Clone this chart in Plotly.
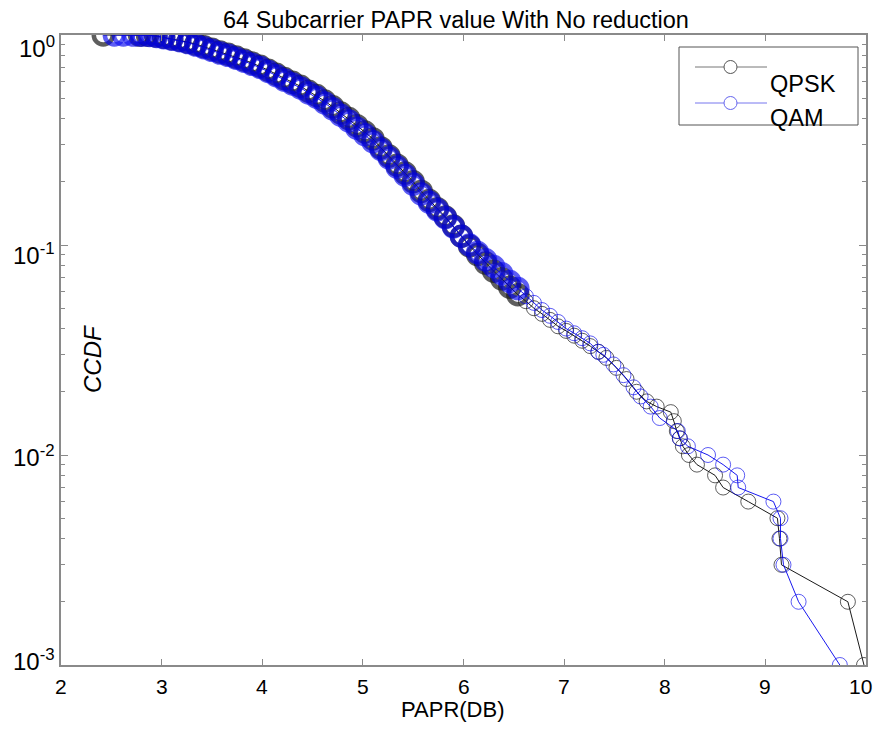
import plotly.graph_objects as go

# ---- data ----
qpsk_papr = [2.42, 2.78, 2.86, 2.94, 3.02, 3.10, 3.18, 3.26, 3.34, 3.42, 3.50, 3.58, 3.66, 3.74,
             3.82, 3.90, 3.98, 4.06, 4.14, 4.22, 4.30, 4.38, 4.46, 4.54, 4.62, 4.70, 4.78, 4.86,
             4.94, 5.02, 5.10, 5.18, 5.26, 5.34, 5.42, 5.50, 5.58, 5.66, 5.74, 5.82, 5.90, 5.98,
             6.06, 6.14, 6.22, 6.30, 6.38, 6.46, 6.54, 6.62, 6.70, 6.78, 6.86, 6.94, 7.02, 7.10,
             7.18, 7.26, 7.34, 7.42, 7.52, 7.62, 7.72, 7.82, 7.92, 8.06, 8.09, 8.12, 8.15, 8.18,
             8.24, 8.32, 8.50, 8.58, 8.83, 9.12, 9.14, 9.16, 9.82, 9.98]
qpsk_ccdf = [1.0, 0.999, 0.997, 0.99, 0.975, 0.96, 0.945, 0.925, 0.905, 0.88, 0.855, 0.83, 0.81, 0.785,
             0.76, 0.735, 0.71, 0.68, 0.65, 0.62, 0.595, 0.57, 0.54, 0.515, 0.485, 0.455, 0.425, 0.40,
             0.37, 0.345, 0.32, 0.29, 0.265, 0.24, 0.22, 0.20, 0.18, 0.163, 0.149, 0.136, 0.123, 0.11,
             0.099, 0.09, 0.082, 0.075, 0.069, 0.063, 0.058, 0.054, 0.050, 0.047, 0.044, 0.041, 0.039, 0.037,
             0.035, 0.033, 0.031, 0.029, 0.026, 0.023, 0.020, 0.018, 0.017, 0.016, 0.0145, 0.013, 0.012, 0.011,
             0.010, 0.009, 0.008, 0.007, 0.006, 0.005, 0.004, 0.003, 0.002, 0.001]

qam_papr = [2.53, 2.62, 2.72, 2.80, 2.88, 2.95, 3.02, 3.10, 3.18, 3.26, 3.34, 3.42, 3.50, 3.58,
            3.66, 3.74, 3.82, 3.90, 3.98, 4.06, 4.14, 4.22, 4.30, 4.38, 4.46, 4.54, 4.62, 4.70,
            4.78, 4.86, 4.94, 5.02, 5.10, 5.18, 5.26, 5.34, 5.42, 5.50, 5.58, 5.66, 5.74, 5.82,
            5.90, 5.98, 6.06, 6.14, 6.22, 6.30, 6.38, 6.46, 6.54, 6.62, 6.70, 6.78, 6.86, 6.94,
            7.02, 7.10, 7.18, 7.26, 7.34, 7.39, 7.49, 7.59, 7.69, 7.76, 7.86, 7.95, 8.13, 8.15,
            8.23, 8.43, 8.58, 8.72, 8.73, 9.08, 9.15, 9.15, 9.18, 9.33, 9.74]
qam_ccdf = [1.0, 1.0, 0.999, 0.998, 0.995, 0.985, 0.97, 0.955, 0.94, 0.92, 0.895, 0.87, 0.845, 0.82,
            0.80, 0.775, 0.75, 0.725, 0.70, 0.67, 0.64, 0.61, 0.585, 0.56, 0.53, 0.505, 0.475, 0.445,
            0.415, 0.39, 0.36, 0.335, 0.31, 0.285, 0.26, 0.235, 0.215, 0.195, 0.175, 0.16, 0.147, 0.135,
            0.122, 0.11, 0.10, 0.092, 0.085, 0.079, 0.073, 0.067, 0.062, 0.057, 0.053, 0.049, 0.046, 0.043,
            0.040, 0.038, 0.036, 0.034, 0.031, 0.030, 0.027, 0.024, 0.021, 0.019, 0.017, 0.015, 0.013, 0.012,
            0.011, 0.010, 0.009, 0.008, 0.007, 0.006, 0.005, 0.004, 0.003, 0.002, 0.001]

x_ticks = [2, 3, 4, 5, 6, 7, 8, 9, 10]
x_tick_text = ["2", "3", "4", "5", "6", "7", "8", "9", "10"]
y_ticks = [0.001, 0.01, 0.1, 1]
y_tick_text = ["10<sup>-3</sup>", "10<sup>-2</sup>", "10<sup>-1</sup>", "10<sup>0</sup>"]
series_names = ["QPSK", "QAM"]
title_text = "64 Subcarrier PAPR value With No reduction"
x_title = "PAPR(DB)"
y_title = "CCDF"

# ---- layout geometry ----
W, H = 874, 736
L, R, T, B = 61, 8, 35, 71
PW, PH = W - L - R, H - T - B
FONT = "Liberation Sans, Arial, sans-serif"
BLACK = "#1a1a1a"
BLUE = "#0000ee"
AXIS = "#8a8a8a"
CROWDED_UNTIL = 6.6
# vertical pixel centres of the y tick labels as printed in the reference (bottom to top)
Y_LABEL_PIX = [660, 456, 254, 47]


def px(x):
    return (x - L) / PW


def py(y):
    return (H - B - y) / PH


def ring_widths(xs):
    # overlapping rings in the crowded part of the curve look heavier
    return [4.5 if v < CROWDED_UNTIL else 1.0 for v in xs]


def ring_sizes(xs):
    return [19 if v < CROWDED_UNTIL else 15 for v in xs]


fig = go.Figure()
fig.add_trace(go.Scatter(x=qpsk_papr, y=qpsk_ccdf, mode="lines+markers", name=series_names[0],
                         line=dict(color=BLACK, width=1),
                         marker=dict(symbol="circle-open", size=ring_sizes(qpsk_papr), color=BLACK,
                                     line=dict(width=ring_widths(qpsk_papr), color=BLACK)),
                         showlegend=False))
fig.add_trace(go.Scatter(x=qam_papr, y=qam_ccdf, mode="lines+markers", name=series_names[1],
                         line=dict(color=BLUE, width=1),
                         marker=dict(symbol="circle-open", size=ring_sizes(qam_papr), color=BLUE,
                                     line=dict(width=ring_widths(qam_papr), color=BLUE)),
                         opacity=0.9, showlegend=False))

minor_y = [m * 10 ** e for e in (-3, -2, -1) for m in range(2, 10)]

fig.update_layout(
    width=W, height=H, margin=dict(l=L, r=R, t=T, b=B, autoexpand=False),
    paper_bgcolor="white", plot_bgcolor="white",
    font=dict(family=FONT, size=21, color="black"),
    xaxis=dict(range=[2, 10], tickvals=x_ticks, ticks="inside", ticklen=6, tickcolor=AXIS,
               showline=True, linecolor=AXIS, linewidth=1.5, mirror="ticks", showgrid=False,
               zeroline=False, showticklabels=False),
    yaxis=dict(type="log", range=[-3, 0], tickvals=y_ticks, ticks="inside",
               ticklen=7, tickcolor=AXIS, showline=True, linecolor=AXIS, linewidth=1.5, mirror="ticks",
               showgrid=False, zeroline=False, showticklabels=False,
               minor=dict(tickvals=minor_y, ticks="inside", ticklen=4, tickcolor=AXIS, showgrid=False)),
)

annotations = [
    dict(text=title_text, x=px(456), y=py(20), xref="paper", yref="paper", showarrow=False,
         xanchor="center", yanchor="middle", font=dict(size=23.5)),
    dict(text=x_title, x=px(453), y=py(709), xref="paper", yref="paper", showarrow=False,
         xanchor="center", yanchor="middle", font=dict(size=22)),
    dict(text="<i>" + y_title + "</i>", x=px(93), y=py(359), xref="paper", yref="paper", showarrow=False,
         xanchor="center", yanchor="middle", textangle=-90, font=dict(size=24)),
    dict(text=series_names[0], x=px(768), y=py(84), xref="paper", yref="paper", showarrow=False,
         xanchor="left", yanchor="middle", font=dict(size=23.5)),
    dict(text=series_names[1], x=px(768), y=py(118), xref="paper", yref="paper", showarrow=False,
         xanchor="left", yanchor="middle", font=dict(size=23.5)),
]
for tv, tt in zip(x_ticks, x_tick_text):
    annotations.append(dict(text=tt, x=tv, y=py(686), xref="x", yref="paper", showarrow=False,
                            xanchor="center", yanchor="middle", font=dict(size=21),
                            xshift=(-6 if tv == x_ticks[-1] else 0)))
for tt, ypix in zip(y_tick_text, Y_LABEL_PIX):
    annotations.append(dict(text=tt, x=px(57), y=py(ypix), xref="paper", yref="paper", showarrow=False,
                            xanchor="right", yanchor="middle", font=dict(size=24)))
fig.update_layout(annotations=annotations)

shapes = [
    dict(type="rect", xref="paper", yref="paper", x0=px(679), x1=px(858), y0=py(125), y1=py(47),
         line=dict(color="#555555", width=1), fillcolor="rgba(0,0,0,0)", layer="above"),
    dict(type="line", xref="paper", yref="paper", x0=px(695), x1=px(767), y0=py(67), y1=py(67),
         line=dict(color="#777777", width=1)),
    dict(type="line", xref="paper", yref="paper", x0=px(695), x1=px(767), y0=py(103), y1=py(103),
         line=dict(color="#7777ee", width=1)),
    dict(type="circle", xref="paper", yref="paper", x0=px(724), x1=px(737), y0=py(73.5), y1=py(60.5),
         line=dict(color="#555555", width=1), fillcolor="white"),
    dict(type="circle", xref="paper", yref="paper", x0=px(724), x1=px(737), y0=py(109.5), y1=py(96.5),
         line=dict(color="#6666ee", width=1), fillcolor="white"),
]
fig.update_layout(shapes=shapes)

fig.write_html("out.html")
